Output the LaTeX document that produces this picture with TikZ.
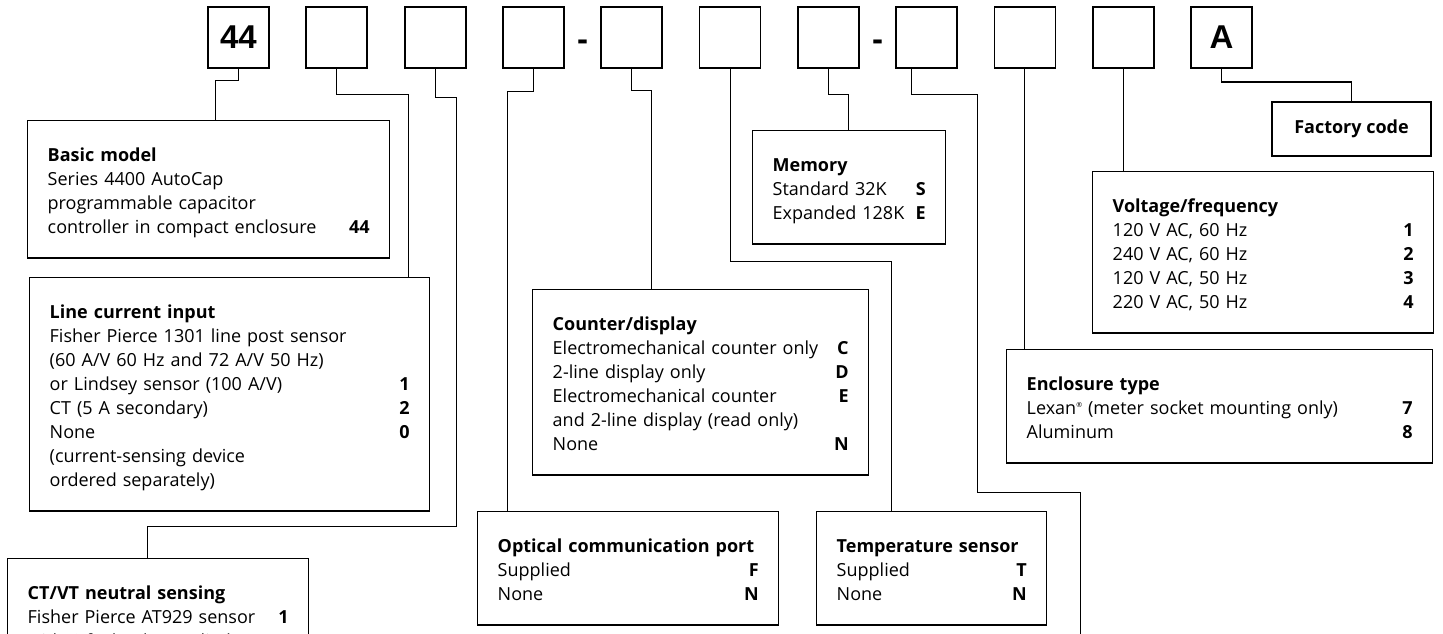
\documentclass[tikz,border=0pt]{standalone}
\usepackage{fontspec}
\setmainfont{Open Sans}
\newfontfamily\codefont{Liberation Sans}
\usetikzlibrary{calc}

% one line of an option box: text on the left, code on the right
\newcommand{\optline}[2]{\par\noindent\hbox to\hsize{\strut#1\hfill\textbf{#2}}}
\newcommand{\opttitle}[1]{\par\noindent\hbox to\hsize{\strut\textbf{#1}\hfill}}

\begin{document}
\begin{tikzpicture}[x=1pt, y=-1pt,
    codebox/.style={
        draw,
        line width=1.8pt,
        minimum width=61pt,
        minimum height=61pt,
        inner sep=0pt,
        font=\codefont\fontsize{33}{33}\selectfont\bfseries
    },
    dashsign/.style={
        inner sep=0pt,
        font=\codefont\fontsize{33}{33}\selectfont\bfseries
    },
    optbox/.style={
        draw,
        line width=1.4pt,
        anchor=north west,
        inner xsep=20pt,
        inner ysep=17pt,
        font=\fontsize{18}{24}\selectfont
    },
    link/.style={line width=1pt}
]
\useasboundingbox (0,0) rectangle (1443,634);

% Code boxes of the catalog number
\node[codebox] (b1) at (238.5,37.5) {44};
\node[codebox] (b2) at (336.8,37.5) {};
\node[codebox] (b3) at (435.1,37.5) {};
\node[codebox] (b4) at (533.4,37.5) {};
\node[codebox] (b5) at (631.7,37.5) {};
\node[codebox] (b6) at (730.0,37.5) {};
\node[codebox] (b7) at (828.3,37.5) {};
\node[codebox] (b8) at (926.6,37.5) {};
\node[codebox] (b9) at (1024.9,37.5) {};
\node[codebox] (b10) at (1123.2,37.5) {};
\node[codebox] (b11) at (1221.5,37.5) {A};

% Separating dashes
\node[dashsign] (d1) at (582.5,45.5) {-};
\node[dashsign] (d2) at (877.5,45.5) {-};

% Option boxes
\node[optbox, text width=322pt, minimum height=132pt] (bm) at (27,120) {
    \opttitle{Basic model}
    \optline{Series 4400 AutoCap}{}
    \optline{programmable capacitor}{}
    \optline{controller in compact enclosure}{44}};
\node[optbox, text width=360pt] (lci) at (29,277) {
    \opttitle{Line current input}
    \optline{Fisher Pierce 1301 line post sensor}{}
    \optline{(60 A/V 60 Hz and 72 A/V 50 Hz)}{}
    \optline{or Lindsey sensor (100 A/V)}{1}
    \optline{CT (5 A secondary)}{2}
    \optline{None}{0}
    \optline{(current-sensing device}{}
    \optline{ordered separately)}{}};
\node[optbox, text width=261pt] (ctvt) at (7,558) {
    \opttitle{CT/VT neutral sensing}
    \optline{Fisher Pierce AT929 sensor}{1}
    \optline{with 6-ft. lead (supplied)}{}};
\node[optbox, text width=296pt] (cnt) at (532,289) {
    \opttitle{Counter/display}
    \optline{Electromechanical counter only}{C}
    \optline{2-line display only}{D}
    \optline{Electromechanical counter}{E}
    \optline{and 2-line display (read only)}{}
    \optline{None}{N}};
\node[optbox, text width=261pt] (opt) at (477,511) {
    \opttitle{Optical communication port}
    \optline{Supplied}{F}
    \optline{None}{N}};
\node[optbox, text width=153pt, minimum height=110pt] (mem) at (752,130) {
    \opttitle{Memory}
    \optline{Standard 32K}{S}
    \optline{Expanded 128K}{E}};
\node[optbox, text width=190pt] (tmp) at (816,511) {
    \opttitle{Temperature sensor}
    \optline{Supplied}{T}
    \optline{None}{N}};
\node[optbox, text width=301pt] (vol) at (1092,171) {
    \opttitle{Voltage/frequency}
    \optline{120 V AC, 60 Hz}{1}
    \optline{240 V AC, 60 Hz}{2}
    \optline{120 V AC, 50 Hz}{3}
    \optline{220 V AC, 50 Hz}{4}};
\node[optbox, text width=386pt] (enc) at (1006,349) {
    \opttitle{Enclosure type}
    \optline{Lexan{\fontsize{7}{7}\selectfont\raisebox{7pt}{®}} (meter socket mounting only)}{7}
    \optline{Aluminum}{8}};
\node[draw, line width=1.4pt, minimum width=159pt, minimum height=54pt,
    font=\fontsize{18}{24}\selectfont\bfseries] (fac) at (1351.5,129) {Factory code};

% Connectors from code boxes to option boxes
\coordinate (j1) at (215,81);
\draw[link] (b1.south) |- (j1) -- (j1 |- bm.north);
\coordinate (j2) at (408,94);
\draw[link] (b2.south) |- (j2) -- (j2 |- lci.north);
\coordinate (j3) at (456,97);
\coordinate (j3b) at (147,526);
\draw[link] (b3.south) |- (j3) |- (j3b) -- (j3b |- ctvt.north);
\coordinate (j4) at (507,91);
\draw[link] (b4.south) |- (j4) -- (j4 |- opt.north);
\coordinate (j5) at (651,90);
\draw[link] (b5.south) |- (j5) -- (j5 |- cnt.north);
\coordinate (j6) at (891,261);
\draw[link] (b6.south) |- (j6) -- (j6 |- tmp.north);
\coordinate (j7) at (848,94);
\draw[link] (b7.south) |- (j7) -- (j7 |- mem.north);
\coordinate (j8) at (977,94);
\coordinate (j8b) at (1080,492);
\coordinate (j8end) at (1080,660);
\draw[link] ([xshift=-15pt]b8.south) |- (j8) |- (j8b) -- (j8end);
\draw[link] (b9.south) -- (b9.south |- enc.north);
\draw[link] (b10.south) -- (b10.south |- vol.north);
\coordinate (j11) at (1351.5,82);
\draw[link] (b11.south) |- (j11) -- (fac.north);

\end{tikzpicture}
\end{document}
